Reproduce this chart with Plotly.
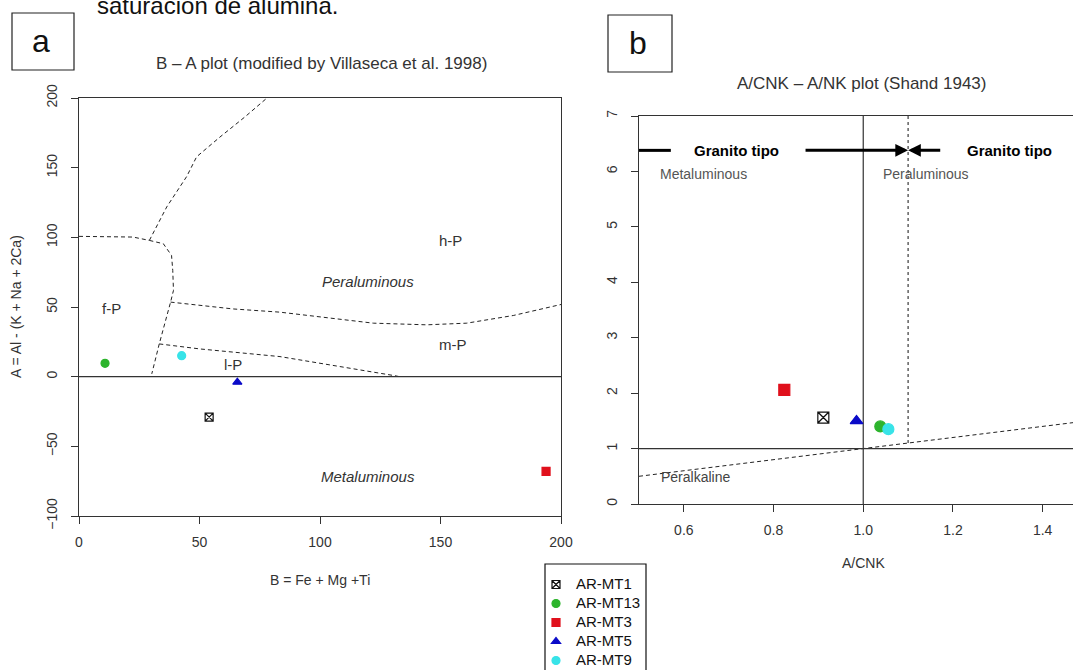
import plotly.graph_objects as go

W, H = 1073, 670

# ---------------- data ----------------
samples = ["AR-MT1", "AR-MT13", "AR-MT3", "AR-MT5", "AR-MT9"]
symbols = ["square-x-open", "circle", "square", "triangle-up", "circle"]
colors = ["#111111", "#2db42d", "#e0101c", "#0a0ac8", "#38e3e8"]

# panel a: B-A diagram
B_vals = [54.0, 10.8, 193.8, 65.7, 42.6]
A_vals = [-29.0, 9.6, -68.0, -4.0, 15.1]

# panel b: Shand diagram
acnk_vals = [0.911, 1.038, 0.824, 0.985, 1.056]
ank_vals = [1.56, 1.40, 2.06, 1.50, 1.35]

# field boundaries of the B-A plot (Villaseca et al. 1998)
bnd_upper_x = [29.2, 36.4, 44.7, 48.8, 58.5, 68.9, 78.0]
bnd_upper_y = [97.8, 121.8, 143.7, 157.8, 172.0, 186.5, 200.0]
bnd_left_x = [0.0, 22.4, 29.2]
bnd_left_y = [100.7, 100.2, 97.8]
bnd_fp_x = [29.2, 35.0, 38.4, 38.9, 39.2, 38.0, 33.3, 30.2]
bnd_fp_y = [97.8, 95.4, 87.0, 76.3, 61.9, 53.5, 23.5, 2.0]
bnd_hm_x = [38.0, 64.0, 83.4, 101.4, 122.1, 144.2, 160.9, 180.2, 200.0]
bnd_hm_y = [53.5, 48.6, 46.3, 42.7, 38.4, 37.2, 38.4, 43.9, 51.8]
bnd_ml_x = [33.3, 50.2, 83.4, 111.0, 131.0, 133.0]
bnd_ml_y = [23.5, 19.9, 14.4, 6.7, 0.7, 0.0]

# Shand boundaries
peralk_x = [0.5, 1.5]
peralk_y = [0.5, 1.5]
acnk_limit = 1.1

FONT = "Arial, Liberation Sans, sans-serif"
TXT = "#333333"

fig = go.Figure()

dash = "4px,3px"
for bx, by in [(bnd_upper_x, bnd_upper_y), (bnd_left_x, bnd_left_y), (bnd_fp_x, bnd_fp_y),
               (bnd_hm_x, bnd_hm_y), (bnd_ml_x, bnd_ml_y)]:
    fig.add_trace(go.Scatter(x=bx, y=by, mode="lines", xaxis="x", yaxis="y",
                             line=dict(color="#222222", width=1, dash=dash),
                             showlegend=False, hoverinfo="skip"))
fig.add_trace(go.Scatter(x=[0, 200], y=[0, 0], mode="lines", xaxis="x", yaxis="y",
                         line=dict(color="#333333", width=1.2), showlegend=False, hoverinfo="skip"))

fig.add_trace(go.Scatter(x=peralk_x, y=peralk_y, mode="lines", xaxis="x2", yaxis="y2",
                         line=dict(color="#222222", width=1, dash=dash),
                         showlegend=False, hoverinfo="skip"))
fig.add_trace(go.Scatter(x=[1.0, 1.0], y=[0, 7], mode="lines", xaxis="x2", yaxis="y2",
                         line=dict(color="#333333", width=1.2), showlegend=False, hoverinfo="skip"))
fig.add_trace(go.Scatter(x=[0.5, 1.5], y=[1, 1], mode="lines", xaxis="x2", yaxis="y2",
                         line=dict(color="#333333", width=1.2), showlegend=False, hoverinfo="skip"))
fig.add_trace(go.Scatter(x=[acnk_limit, acnk_limit], y=[1.1, 7], mode="lines", xaxis="x2", yaxis="y2",
                         line=dict(color="#111111", width=1, dash="dot"),
                         showlegend=False, hoverinfo="skip"))

for i, s in enumerate(samples):
    mline = dict(color=colors[i], width=1.2)
    fig.add_trace(go.Scatter(x=[B_vals[i]], y=[A_vals[i]], mode="markers",
                             name='<span style="font-size:15px">' + s + "</span>",
                             xaxis="x", yaxis="y", legendgroup=s, showlegend=True,
                             marker=dict(symbol=symbols[i], size=8, color=colors[i], line=mline)))
    fig.add_trace(go.Scatter(x=[acnk_vals[i]], y=[ank_vals[i]], mode="markers", name=s,
                             xaxis="x2", yaxis="y2", legendgroup=s, showlegend=False,
                             marker=dict(symbol=symbols[i], size=11, color=colors[i], line=mline)))

def px_x(p):
    return p / W

def px_y(p):
    return 1 - p / H

axis_common = dict(showgrid=False, zeroline=False, showline=True, linecolor="#333333", linewidth=1.2,
                   ticks="outside", ticklen=7, tickcolor="#333333", tickwidth=1.2,
                   tickfont=dict(family=FONT, size=14, color=TXT))

fig.update_layout(
    width=W, height=H, margin=dict(l=0, r=0, t=0, b=0, autoexpand=False),
    paper_bgcolor="white", plot_bgcolor="white",
    font=dict(family=FONT, color=TXT),
    xaxis=dict(domain=[px_x(79), px_x(561)], range=[0, 200], tickvals=[0, 50, 100, 150, 200],
               mirror=True, anchor="y", ticklabelstandoff=6, automargin=False, **axis_common),
    yaxis=dict(domain=[px_y(516), px_y(98)], range=[-100, 200], tickvals=[-100, -50, 0, 50, 100, 150, 200],
               tickangle=-90, mirror=True, anchor="x", ticklabelstandoff=8, automargin=False, **axis_common),
    xaxis2=dict(domain=[px_x(639), 1.0], range=[0.5, 1.4677], tickvals=[0.6, 0.8, 1.0, 1.2, 1.4],
                ticktext=["0.6", "0.8", "1.0", "1.2", "1.4"], mirror=True, anchor="y2",
                ticklabelstandoff=6, automargin=False, **axis_common),
    yaxis2=dict(domain=[px_y(504), px_y(116)], range=[0, 7], tickvals=list(range(8)),
                tickangle=-90, mirror=False, anchor="x2", ticklabelstandoff=8, automargin=False,
                **axis_common),
    legend=dict(x=px_x(536), y=px_y(570), xanchor="left", yanchor="top",
                bgcolor="rgba(0,0,0,0)", borderwidth=0, tracegroupgap=0,
                font=dict(family=FONT, size=12.3, color="#111111")),
    showlegend=True,
)

ann = []
def note(text, x, y, size=14, color=TXT, xref="paper", yref="paper", **kw):
    d = dict(text=text, x=x, y=y, xref=xref, yref=yref, showarrow=False,
             font=dict(family=FONT, size=size, color=color))
    d.setdefault("xanchor", "center")
    d.setdefault("yanchor", "middle")
    d.update(kw)
    ann.append(d)

# cut-off text line at very top
note("saturación de alúmina.", px_x(95), px_y(6), size=24, color="#111111", xanchor="left")
# panel letters
note("a", px_x(41), px_y(41), size=32, color="#111111")
note("b", px_x(638), px_y(43), size=32, color="#111111")
# titles
note("B – A plot (modified by Villaseca et al. 1998)", px_x(321), px_y(64), size=17)
note("A/CNK – A/NK plot (Shand 1943)", px_x(861), px_y(83), size=17)
# axis titles
note("A = Al - (K + Na + 2Ca)", px_x(16), px_y(307), size=14, textangle=-90)
note("B = Fe + Mg +Ti", px_x(320), px_y(580), size=14)
note("A/CNK", px_x(863), px_y(563), size=14)

# field labels panel a
note("f-P", 13.5, 48.6, size=15, xref="x", yref="y")
note("l-P", 64, 8.6, size=15, xref="x", yref="y")
note("h-P", 154, 98, size=15, xref="x", yref="y")
note("m-P", 155, 23, size=15, xref="x", yref="y")
note("<i>Peraluminous</i>", 120, 68, size=15, xref="x", yref="y")
note("<i>Metaluminous</i>", 120, -72, size=15, xref="x", yref="y")

# field labels panel b
note("Metaluminous", 0.643, 5.95, size=14, color="#555555", xref="x2", yref="y2")
note("Peraluminous", 1.141, 5.95, size=14, color="#555555", xref="x2", yref="y2")
note("Peralkaline", 0.625, 0.48, size=14, color="#444444", xref="x2", yref="y2")
note("<b>Granito tipo</b>", 0.718, 6.38, size=15, color="#000000", xref="x2", yref="y2")
note("<b>Granito tipo</b>", 1.327, 6.38, size=15, color="#000000", xref="x2", yref="y2")

# arrows panel b
ann.append(dict(x=acnk_limit, y=6.38, ax=0.868, ay=6.38, xref="x2", yref="y2", axref="x2", ayref="y2",
                showarrow=True, arrowhead=2, arrowsize=0.85, arrowwidth=3, arrowcolor="#000000", text=""))
ann.append(dict(x=acnk_limit, y=6.38, ax=1.175, ay=6.38, xref="x2", yref="y2", axref="x2", ayref="y2",
                showarrow=True, arrowhead=2, arrowsize=0.85, arrowwidth=3, arrowcolor="#000000", text=""))

fig.update_layout(annotations=ann)

shapes = [
    dict(type="line", xref="x2", yref="y2", x0=0.5, x1=0.571, y0=6.38, y1=6.38,
         line=dict(color="#000000", width=3)),
    dict(type="rect", xref="paper", yref="paper", x0=px_x(12), x1=px_x(74), y0=px_y(70), y1=px_y(13),
         line=dict(color="#222222", width=1.2)),
    dict(type="rect", xref="paper", yref="paper", x0=px_x(608), x1=px_x(672), y0=px_y(72), y1=px_y(15),
         line=dict(color="#222222", width=1.2)),
    dict(type="rect", xref="paper", yref="paper", x0=px_x(545), x1=px_x(646), y0=px_y(690), y1=px_y(564),
         line=dict(color="#111111", width=1.2)),
]
fig.update_layout(shapes=shapes)

fig.write_html("out.html")
